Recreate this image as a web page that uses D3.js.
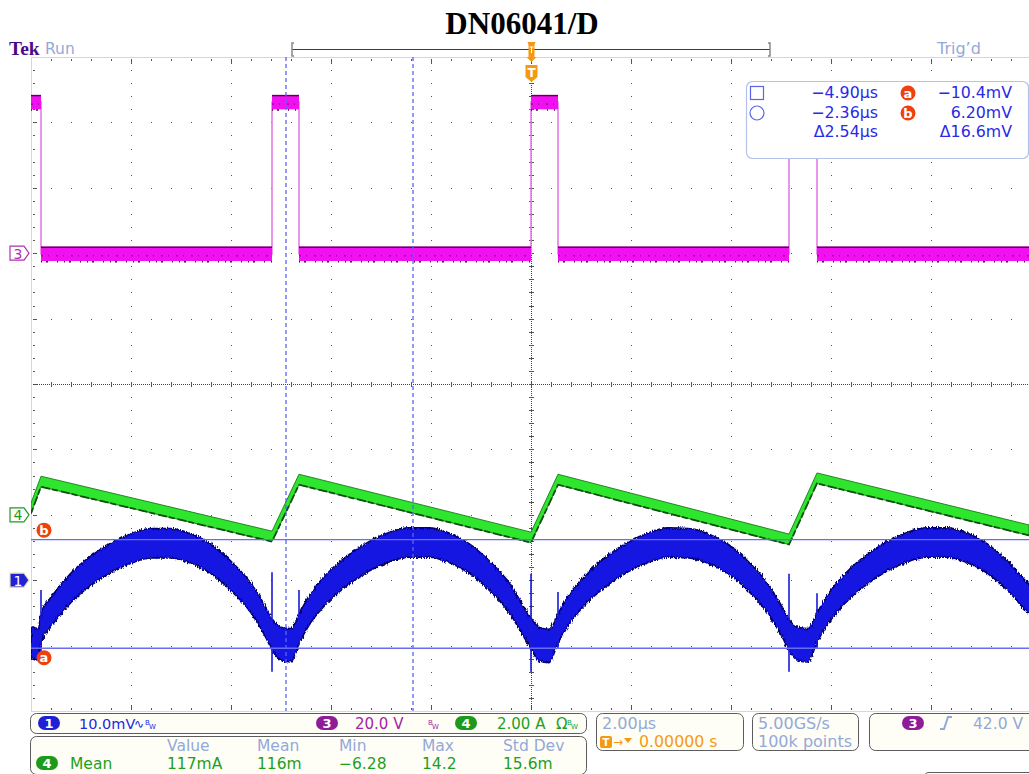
<!DOCTYPE html>
<html><head><meta charset="utf-8">
<script src="https://cdn.jsdelivr.net/npm/d3@7"></script>
<style>
body{margin:0;background:#fff;}
svg{display:block;}
text{font-family:"DejaVu Sans",sans-serif;}
</style></head><body>
<svg id="scope" width="1029" height="774"></svg>
<script>
// ---- acquisition data (time in µs, trigger at 0) ----
// Channel 3: switch-node voltage (V), step levels between edges
const ch3Time  = [-10, -9.8, -5.18, -4.64, 0, 0.54, 5.16, 5.72, 10];
const ch3Volts = [46.2, -0.2, 46.2, -0.2, 46.2, -0.2, 46.2, -0.2, -0.2];
// Channel 4: inductor current (A)
const ch4Time = [-10, -9.8, -5.18, -4.64, 0, 0.54, 5.16, 5.72, 9.96];
const ch4Amps = [0.21, 1.03, -0.65, 1.09, -0.68, 1.09, -0.74, 1.13, -0.46];
// Channel 1: output ripple (mV), upper and lower envelope of the noisy trace
const ch1Time = [
  -10.0, -9.85,
  -9.8, -9.6, -9.2, -8.8, -8.4, -8.0, -7.6, -7.2, -6.8, -6.4, -6.0, -5.6, -5.3, -5.18, -5.0, -4.8,
  -4.64, -4.44, -4.04, -3.64, -3.24, -2.84, -2.44, -2.04, -1.64, -1.24, -0.84, -0.44, -0.14, 0.0, 0.16, 0.36,
  0.54, 0.74, 1.14, 1.54, 1.94, 2.34, 2.74, 3.14, 3.54, 3.94, 4.34, 4.74, 5.04, 5.16, 5.34, 5.54,
  5.72, 5.92, 6.32, 6.72, 7.12, 7.52, 7.92, 8.32, 8.72, 9.12, 9.52, 9.92, 10.0];
const ch1Hi = [
  -7.0, -7.4,
  -5.0, -2.6, 1.1, 3.7, 5.7, 7.1, 7.9, 7.9, 7.1, 5.5, 2.9, -0.5, -4.2, -5.9, -7.2, -7.4,
  -5.2, -2.4, 1.3, 3.9, 5.9, 7.3, 8.0, 8.0, 7.2, 5.6, 3.0, -0.4, -4.1, -5.8, -7.2, -7.5,
  -5.1, -2.5, 1.2, 3.8, 5.8, 7.2, 8.0, 7.9, 7.1, 5.5, 2.9, -0.6, -4.3, -6.0, -7.2, -7.4,
  -5.0, -2.4, 1.3, 3.9, 5.9, 7.3, 8.0, 8.0, 7.2, 5.6, 3.0, -0.3, -0.9];
const ch1Lo = [
  -12.0, -12.2,
  -9.5, -7.1, -3.4, -0.8, 1.2, 2.6, 3.4, 3.4, 2.6, 1.0, -1.6, -5.0, -8.8, -10.6, -12.2, -12.5,
  -9.7, -6.9, -3.2, -0.6, 1.4, 2.8, 3.5, 3.5, 2.7, 1.1, -1.5, -4.9, -8.7, -10.5, -12.3, -12.6,
  -9.6, -7.0, -3.3, -0.7, 1.3, 2.7, 3.5, 3.4, 2.6, 1.0, -1.6, -5.1, -8.9, -10.7, -12.3, -12.5,
  -9.5, -6.9, -3.2, -0.6, 1.4, 2.8, 3.5, 3.5, 2.7, 1.1, -1.5, -4.8, -5.4];
// switching spikes on channel 1
const spikeTime = [-9.8, -5.18, -4.64, 0, 0.54, 5.16, 5.72];
const spikeHi   = [-1.5, 1.2, -1.5, 1.0, -1.8, 1.0, -2.0];
const spikeLo   = [-11.5, -14.0, -10.0, -14.0, -10.5, -14.0, -10.5];

// cursors
const cursorTimes  = [-4.90, -2.36];
const cursorLevels = [-10.4, 6.20];
const cursorTimeText  = ["\u22124.90\u00b5s", "\u22122.36\u00b5s", "\u03942.54\u00b5s"];
const cursorLevelText = ["\u221210.4mV", "6.20mV", "\u039416.6mV"];
const cursorNames = ["a", "b"];

// readouts
const measHeaders = ["Value", "Mean", "Min", "Max", "Std Dev"];
const measValues  = ["117mA", "116m", "\u22126.28", "14.2", "15.6m"];

// ---- layout ----
const svg = d3.select("#scope");
const L = 31, T = 57, R = 1031, B = 711;
const x = d3.scaleLinear().domain([-10, 10]).range([L, R]);
const dv = d3.scaleLinear().domain([-5, 5]).range([B, T]);
function chanScale(perDiv, pos) {
  return d3.scaleLinear().domain([(-5 - pos) * perDiv, (5 - pos) * perDiv]).range([B, T]);
}
const y1 = chanScale(10, -3), y3 = chanScale(20, 2), y4 = chanScale(2, -2);

const LB = "#93a9d9"; // light readout blue
const defs = svg.append("defs");
const fz = defs.append("filter").attr("id", "fuzz").attr("x", "-5%").attr("y", "-10%").attr("width", "110%").attr("height", "120%");
fz.append("feTurbulence").attr("type", "fractalNoise").attr("baseFrequency", "1.2 0.25").attr("numOctaves", 1).attr("seed", 3).attr("result", "n");
fz.append("feDisplacementMap").attr("in", "SourceGraphic").attr("in2", "n").attr("scale", 5).attr("xChannelSelector", "R").attr("yChannelSelector", "G");
defs.append("clipPath").attr("id", "plotclip").append("rect").attr("x", L).attr("y", T).attr("width", R - L).attr("height", B - T);

// ---- graticule ----
const grid = svg.append("g");
const dot = (gx, gy, w, h) => grid.append("rect").attr("x", gx).attr("y", gy).attr("width", w).attr("height", h).attr("fill", "#555");
const majX = d3.range(-8, 10, 2).filter(d => d !== 0);
const majY = d3.range(-4, 5, 1).filter(d => d !== 0);
const minX = d3.range(-10, 10.001, 0.4);
const minY = d3.range(-5, 5.001, 0.2);
majX.forEach(t => minY.forEach(v => dot(Math.round(x(t)), Math.round(dv(v)), 1, 1)));
majY.forEach(v => minX.forEach(t => dot(Math.round(x(t)), Math.round(dv(v)), 1, 1)));
// edge ticks
minX.forEach(t => {
  const big = Math.abs(t / 2 - Math.round(t / 2)) < 1e-6;
  dot(Math.round(x(t)), T + 2, 1, big ? 5 : 2);
  dot(Math.round(x(t)), B - (big ? 6 : 3), 1, big ? 5 : 2);
});
minY.forEach(v => {
  const big = Math.abs(v - Math.round(v)) < 1e-6;
  dot(L + 2, Math.round(dv(v)), big ? 4 : 2, 1);
});
// centre cross
grid.append("line").attr("x1", L).attr("x2", R).attr("y1", Math.round(dv(0)) + 0.5).attr("y2", Math.round(dv(0)) + 0.5)
  .attr("stroke", "#444").attr("stroke-dasharray", "1,1");
grid.append("line").attr("y1", T).attr("y2", B).attr("x1", Math.round(x(0)) + 0.5).attr("x2", Math.round(x(0)) + 0.5)
  .attr("stroke", "#444").attr("stroke-dasharray", "1,1");
minX.forEach(t => dot(Math.round(x(t)), Math.round(dv(0)) - 2, 1, 5));
minY.forEach(v => dot(Math.round(x(0)) - 2, Math.round(dv(v)), 5, 1));
// frame
svg.append("line").attr("x1", L + 0.5).attr("x2", L + 0.5).attr("y1", T).attr("y2", B).attr("stroke", "#c6daf2");
svg.append("line").attr("x1", L).attr("x2", R).attr("y1", T + 0.5).attr("y2", T + 0.5).attr("stroke", "#c6daf2");
svg.append("line").attr("x1", L).attr("x2", R).attr("y1", B + 0.5).attr("y2", B + 0.5).attr("stroke", "#c6daf2");

const traces = svg.append("g").attr("clip-path", "url(#plotclip)");

// ---- channel 3 (magenta) ----
const ch3 = ch3Time.map((t, i) => ({t, v: ch3Volts[i]}));
traces.append("path").datum(ch3)
  .attr("d", d3.line().x(d => x(d.t)).y(d => y3(d.v)).curve(d3.curveStepAfter))
  .attr("fill", "none").attr("stroke", "#e47ce4").attr("stroke-width", 1.6);
ch3.slice(0, -1).forEach((d, i) => {
  const t1 = ch3[i + 1].t;
  const g3 = traces.append("g");
  g3.append("rect").attr("x", x(d.t)).attr("width", x(t1) - x(d.t))
    .attr("y", y3(d.v + 2.2)).attr("height", y3(d.v - 2.2) - y3(d.v + 2.2)).attr("fill", "#f010f0");
  g3.append("line").attr("x1", x(d.t)).attr("x2", x(t1)).attr("y1", y3(d.v + 2.0)).attr("y2", y3(d.v + 2.0))
    .attr("stroke", "#5a0058").attr("stroke-width", 1.4);
  g3.append("line").attr("x1", x(d.t)).attr("x2", x(t1)).attr("y1", y3(d.v - 0.6)).attr("y2", y3(d.v - 0.6))
    .attr("stroke", "#7a0076").attr("stroke-width", 1).attr("stroke-dasharray", "2,5,1,7");
  g3.append("line").attr("x1", x(d.t)).attr("x2", x(t1)).attr("y1", y3(d.v - 2.4)).attr("y2", y3(d.v - 2.4))
    .attr("stroke", "#4a0048").attr("stroke-width", 1.6).attr("stroke-dasharray", "1,4,2,9,1,6");
});

// ---- channel 4 (green) ----
const ch4 = ch4Time.map((t, i) => ({t, v: ch4Amps[i]}));
traces.append("path").datum(ch4)
  .attr("d", d3.area().x(d => x(d.t)).y0(d => y4(d.v - 0.17)).y1(d => y4(d.v + 0.15)))
  .attr("fill", "#2ee62e").attr("stroke", "#177a17").attr("stroke-width", 0.9);
traces.append("path").datum(ch4)
  .attr("d", d3.line().x(d => x(d.t)).y(d => y4(d.v - 0.17)))
  .attr("fill", "none").attr("stroke", "#0c4e0c").attr("stroke-width", 1.8).attr("stroke-dasharray", "6,3,9,2");

// ---- channel 1 (blue) ----
const ch1 = ch1Time.map((t, i) => ({t, hi: ch1Hi[i], lo: ch1Lo[i]}));
const blue = traces.append("g").attr("filter", "url(#fuzz)");
blue.append("path").datum(ch1)
  .attr("d", d3.area().x(d => x(d.t)).y0(d => y1(d.lo)).y1(d => y1(d.hi)).curve(d3.curveMonotoneX))
  .attr("fill", "#1414e2").attr("stroke", "#00006e").attr("stroke-width", 1.6);
spikeTime.forEach((t, i) => {
  traces.append("line").attr("x1", x(t)).attr("x2", x(t)).attr("y1", y1(spikeHi[i])).attr("y2", y1(spikeLo[i]))
    .attr("stroke", "#1a1ad8").attr("stroke-width", 1.6);
});

// ---- cursors ----
const CUR = "#5a64f2";
cursorTimes.forEach(t => {
  svg.append("line").attr("x1", x(t)).attr("x2", x(t)).attr("y1", T).attr("y2", B)
    .attr("stroke", CUR).attr("stroke-width", 1.3).attr("stroke-dasharray", "4,3");
});
cursorLevels.forEach((v, i) => {
  svg.append("line").attr("x1", L).attr("x2", R).attr("y1", y1(v)).attr("y2", y1(v))
    .attr("stroke", "#6a6cf0").attr("stroke-width", 1.4);
  const cy = y1(v) + (i === 0 ? 9.5 : -9.5);
  svg.append("circle").attr("cx", 44).attr("cy", cy).attr("r", 7.5).attr("fill", "#f0400c");
  svg.append("text").attr("x", 44).attr("y", cy + 4.5).attr("text-anchor", "middle")
    .attr("fill", "#fff").attr("font-weight", "bold").attr("font-size", 13).text(cursorNames[i]);
});

// ---- channel markers on the left ----
function marker(cy, label, fill, stroke, color) {
  const p = `M10,${cy - 7} L24,${cy - 7} L29,${cy} L24,${cy + 7} L10,${cy + 7} Z`;
  svg.append("path").attr("d", p).attr("fill", fill).attr("stroke", stroke).attr("stroke-width", 1.2);
  svg.append("text").attr("x", 18).attr("y", cy + 5.5).attr("text-anchor", "middle")
    .attr("fill", color).attr("font-size", 14).text(label);
}
marker(y3(0), "3", "#fff", "#b030b0", "#b030b0");
marker(y4(0), "4", "#fff", "#1f9a1f", "#1f9a1f");
marker(y1(0), "1", "#2020d6", "#e6e0a8", "#fff");

// ---- top bar ----
svg.append("text").attr("x", 522).attr("y", 34).attr("text-anchor", "middle")
  .style("font-family", "'Liberation Serif', serif")
  .attr("font-weight", "bold").attr("font-size", 31).attr("fill", "#000").text("DN06041/D");
svg.append("text").attr("x", 9).attr("y", 55).style("font-family", "'Liberation Serif', serif")
  .attr("font-weight", "bold").attr("font-size", 19.5).attr("fill", "#4a0a8a").text("Tek");
svg.append("text").attr("x", 45).attr("y", 54).attr("font-size", 15.5).attr("fill", LB).text("Run");
svg.append("text").attr("x", 937).attr("y", 54).attr("font-size", 16).attr("fill", LB).text("Trig\u2019d");
svg.append("line").attr("x1", 292).attr("x2", 770).attr("y1", 49.5).attr("y2", 49.5).attr("stroke", "#2a2ad0").attr("stroke-width", 1.2);
svg.append("path").attr("d", "M294,43 L292,43 L292,56 L294,56").attr("fill", "none").attr("stroke", "#888").attr("stroke-width", 1.5);
svg.append("path").attr("d", "M768,43 L770,43 L770,56 L768,56").attr("fill", "none").attr("stroke", "#888").attr("stroke-width", 1.5);
// trigger position icons
const tx = Math.round(x(0)) + 0.5;
const OR = "#f59a10";
svg.append("path").attr("d", `M${tx - 4},42 L${tx + 4},42 L${tx + 3},45 L${tx + 3},57 L${tx + 5},57 L${tx},62 L${tx - 5},57 L${tx - 3},57 L${tx - 3},45 Z`).attr("fill", OR);
svg.append("path").attr("d", `M${tx - 2},47 L${tx + 2},47 M${tx},47 L${tx},53`).attr("stroke", "#fff").attr("stroke-width", 1);
svg.append("path").attr("d", `M${tx - 6},65 L${tx + 6},65 L${tx + 6},77 L${tx},82 L${tx - 6},77 Z`).attr("fill", OR);
svg.append("text").attr("x", tx).attr("y", 77).attr("text-anchor", "middle").attr("fill", "#fff")
  .attr("font-weight", "bold").attr("font-size", 12).text("T");

// ---- cursor readout box ----
const CB = "#2a2ae6";
svg.append("rect").attr("x", 746.5).attr("y", 81.5).attr("width", 282).attr("height", 77).attr("rx", 6)
  .attr("fill", "#fff").attr("stroke", "#b4c2ea").attr("stroke-width", 1.2);
svg.append("rect").attr("x", 750.5).attr("y", 86.5).attr("width", 13).attr("height", 13).attr("fill", "none").attr("stroke", "#5a64e6").attr("stroke-width", 1.2);
svg.append("circle").attr("cx", 757).attr("cy", 113).attr("r", 7).attr("fill", "none").attr("stroke", "#5a64e6").attr("stroke-width", 1.2);
const rowY = [98, 118, 137];
cursorTimeText.forEach((s, i) => svg.append("text").attr("x", 878).attr("y", rowY[i]).attr("text-anchor", "end")
  .attr("font-size", 15.8).attr("fill", CB).text(s));
cursorLevelText.forEach((s, i) => svg.append("text").attr("x", 1012).attr("y", rowY[i]).attr("text-anchor", "end")
  .attr("font-size", 15.8).attr("fill", CB).text(s));
cursorNames.forEach((n, i) => {
  svg.append("circle").attr("cx", 908).attr("cy", rowY[i] - 5).attr("r", 7.5).attr("fill", "#f0400c");
  svg.append("text").attr("x", 908).attr("y", rowY[i]).attr("text-anchor", "middle").attr("fill", "#fff")
    .attr("font-weight", "bold").attr("font-size", 13).text(n);
});

// ---- bottom readouts ----
const PF = "#fefef6", PS = "#5c5c5c";
function panel(px, py, pw, ph) {
  svg.append("rect").attr("x", px + 0.5).attr("y", py + 0.5).attr("width", pw).attr("height", ph).attr("rx", 6)
    .attr("fill", PF).attr("stroke", PS).attr("stroke-width", 1);
}
function badge(cx, cy, label, fill) {
  svg.append("rect").attr("x", cx - 11).attr("y", cy - 7).attr("width", 22).attr("height", 14).attr("rx", 7).attr("fill", fill);
  svg.append("text").attr("x", cx).attr("y", cy + 5).attr("text-anchor", "middle").attr("fill", "#fff")
    .attr("font-weight", "bold").attr("font-size", 13).text(label);
}
const txt = (tx_, ty, s, col, size, anchor) => svg.append("text").attr("x", tx_).attr("y", ty)
  .attr("font-size", size || 15.5).attr("fill", col).attr("text-anchor", anchor || "start").text(s);

panel(30, 713, 556, 20);
badge(49, 723, "1", "#1f1fd4");
txt(79, 729, "10.0mV", "#2626e0", 14.5);
txt(134, 728, "\u223f", "#2626e0", 12);
txt(145, 725, "B", "#2626e0", 7); txt(149, 729, "W", "#2626e0", 7);
badge(327, 723, "3", "#8e1c98");
txt(355, 729, "20.0 V", "#a41ea8", 15);
txt(428, 725, "B", "#a41ea8", 7); txt(432, 729, "W", "#a41ea8", 7);
badge(466, 723, "4", "#1c9a1c");
txt(497, 729, "2.00 A", "#1e9e1e", 15);
txt(556, 729, "\u03a9", "#1e9e1e", 15);
txt(567, 725, "B", "#1e9e1e", 7); txt(571, 729, "W", "#1e9e1e", 7);

panel(30, 736, 556, 38);
const measX = [167, 257, 339, 422, 503];
measHeaders.forEach((h, i) => txt(measX[i], 751, h, LB));
badge(47, 763, "4", "#1c9a1c");
txt(70, 769, "Mean", "#1e9e1e");
measValues.forEach((v, i) => txt(measX[i], 769, v, "#1e9e1e"));

panel(596, 713, 147, 37);
txt(602, 729, "2.00\u00b5s", LB, 16);
svg.append("rect").attr("x", 600).attr("y", 736).attr("width", 12).attr("height", 12).attr("rx", 2).attr("fill", OR);
txt(606, 746, "T", "#fff", 10, "middle").attr("font-weight", "bold");
txt(613, 746, "\u2192", OR, 12);
svg.append("path").attr("d", "M624,738 L632,738 L628,743 Z").attr("fill", OR);
txt(639, 747, "0.00000 s", OR, 15.8);

panel(752, 713, 106, 37);
txt(758, 729, "5.00GS/s", LB, 16);
txt(758, 747, "100k points", LB, 16);

panel(869, 713, 170, 37);
badge(913, 723, "3", "#8e1c98");
svg.append("path").attr("d", "M940,729 L944,729 L948,717 L952,717").attr("fill", "none").attr("stroke", LB).attr("stroke-width", 2);
txt(973, 729, "42.0 V", LB);
svg.append("path").attr("d", "M924.5,781 L924.5,777 Q924.5,772.5 929,772.5 L1040,772.5").attr("fill", "none").attr("stroke", PS);
</script>
</body></html>
